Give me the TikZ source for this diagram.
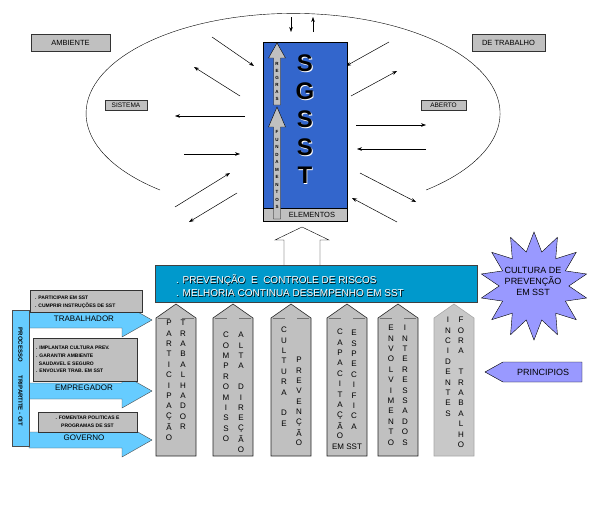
\documentclass[tikz,border=0pt]{standalone}
\usepackage{fontspec}
\setmainfont{Liberation Sans}
\usetikzlibrary{shapes.geometric,arrows.meta}
\definecolor{sgsstblue}{HTML}{3366CC}
\definecolor{barblue}{HTML}{0099CC}
\definecolor{tripblue}{HTML}{66CCFF}
\definecolor{lilac}{HTML}{9999FF}
\definecolor{boxgray}{HTML}{C0C0C0}
\definecolor{palegray}{HTML}{C8C8C8}
\tikzset{
  tag/.style={draw=black!80,fill=boxgray,line width=0.8pt},
  flow/.style={-{Stealth[length=5pt,width=3.6pt]},line width=0.5pt},
  pillar/.style={draw=black!85,fill=boxgray,line width=0.6pt},
  letter/.style={inner sep=0pt,font=\fontsize{8}{8}\selectfont},
  note/.style={inner sep=0pt,anchor=west,align=left,font=\fontsize{5}{7.6}\bfseries\selectfont},
}
\begin{document}
\begin{tikzpicture}[x=1pt,y=-1pt]
  \useasboundingbox (0,0) rectangle (592,514);
  \draw
    (160,190)
    arc[start angle=230,end angle=-50,x radius=207pt,y radius=100pt];
  \draw[tag] (31,34) rectangle (110,51);
  \node[font=\fontsize{7.5}{8}\selectfont] (ambiente) at (70.5,42.5) {AMBIENTE};
  \draw[tag] (472,34) rectangle (545,51);
  \node[font=\fontsize{7.5}{8}\selectfont] (detrabalho) at (508.5,42.5) {DE TRABALHO};
  \draw[tag,line width=0.6pt] (105,100) rectangle (147,110);
  \node[font=\fontsize{6.5}{7}\selectfont] (sistema) at (126,105) {SISTEMA};
  \draw[tag,line width=0.6pt] (421,100) rectangle (466,110);
  \node[font=\fontsize{6.5}{7}\selectfont] (aberto) at (443.5,105) {ABERTO};
  \draw[flow] (291,17) -- (291,32);
  \draw[flow] (313,32) -- (313,17);
  \draw[flow] (212,37) -- (254,66);
  \draw[flow] (240,96) -- (194,67);
  \draw[flow] (245,116) -- (175,116);
  \draw[flow] (184,154) -- (240,154);
  \draw[flow] (175,207) -- (230,173);
  \draw[flow] (237,193) -- (189,222);
  \draw[flow] (389,42) -- (346,66);
  \draw[flow] (351,96) -- (397,71);
  \draw[flow] (356,125) -- (426,125);
  \draw[flow] (426,149) -- (357,149);
  \draw[flow] (360,173) -- (416,202);
  \draw[flow] (397,222) -- (352,198);
  \draw[fill=sgsstblue,line width=0.7pt] (263,42) rectangle (347,221);
  \draw[fill=boxgray,line width=0.7pt] (263,208) rectangle (347,221);
  \node[font=\fontsize{7.5}{8}\selectfont] (elementos) at (312,214.5) {ELEMENTOS};
  \foreach \s [count=\i from 0] in {S,G,S,S,T}
    {
    \node[text=white,font=\fontsize{24}{24}\bfseries\selectfont] at (305.8,{63.8+28*\i}) {\s};
    \node[font=\fontsize{24}{24}\bfseries\selectfont] (sgsst\i) at (305,{63+28*\i}) {\s};
    }
  \filldraw[fill=boxgray]
    (273.5,105) -- (273.5,58) -- (268.5,58) -- (277,43)
    -- (285.5,58) -- (280.5,58) -- (280.5,105) -- cycle;
  \filldraw[fill=boxgray]
    (273.5,219) -- (273.5,127) -- (268.5,127) -- (277,107)
    -- (285.5,127) -- (280.5,127) -- (280.5,219) -- cycle;
  \foreach \l [count=\i from 0] in {R,E,G,R,A,S}
    \node[inner sep=0pt,font=\fontsize{4.5}{5}\bfseries\selectfont] at (277,{64+7*\i}) {\l};
  \foreach \l [count=\i from 0] in {F,U,N,D,A,M,E,N,T,O,S}
    \node[inner sep=0pt,font=\fontsize{4.5}{5}\bfseries\selectfont] at (277,{132+7.5*\i}) {\l};
  \draw[fill=white]
    (284,265) -- (284,240) -- (275,240) -- (302,227)
    -- (329,240) -- (320,240) -- (320,265);
  \draw[fill=barblue,draw=black!75,line width=0.7pt] (155,265) rectangle (477,302);
  \node[note,font=\fontsize{10}{13}\selectfont] at (176.7,286.2)
    {. PREVENÇÃO~ E~ CONTROLE DE RISCOS\\. MELHORIA CONTINUA DESEMPENHO EM SST};
  \node[note,text=white,font=\fontsize{10}{13}\selectfont] (riscos) at (176,285.5)
    {. PREVENÇÃO~ E~ CONTROLE DE RISCOS\\. MELHORIA CONTINUA DESEMPENHO EM SST};
  \node[star,star points=14,star point ratio=1.55,minimum size=108pt,
    draw,fill=lilac,inner sep=0pt] (cultura) at (534,286) {};
  \node[align=center,font=\fontsize{9}{11}\selectfont] (culturatxt) at (533,281)
    {CULTURA DE\\PREVENÇÃO\\EM SST};
  \filldraw[fill=lilac]
    (485,372) -- (503,362) -- (582,362) -- (582,382) -- (503,382) -- cycle;
  \node[font=\fontsize{9}{10}\selectfont] (principios) at (543,372) {PRINCIPIOS};
  \foreach \x in {156,213,271,327,378}
    {
    \draw[pillar]
      (\x,456) -- (\x,318) -- (\x+20,304) -- (\x+40,318) -- (\x+40,456) -- cycle;
    \draw[black!55,line width=1.3pt] (\x+2,318.5) -- (\x+14,318.5);
    \draw[black!55,line width=1.3pt] (\x+26,318.5) -- (\x+38,318.5);
    }
  \draw[draw=black!35,fill=palegray,line width=0.6pt]
    (434,456) -- (434,318) -- (454,304) -- (474,318) -- (474,456) -- cycle;
  \foreach \cx/\cy/\word in {
      169/323/{P,A,R,T,I,C,I,P,A,Ç,Ã,O},
      183/323/{T,R,A,B,A,L,H,A,D,O,R},
      226/335/{C,O,M,P,R,O,M,I,S,S,O},
      241/335/{A,L,T,A,{},D,I,R,E,Ç,Ã,O},
      284/330/{C,U,L,T,U,R,A,{},D,E},
      299/360/{P,R,E,V,E,N,Ç,Ã,O},
      340/332/{C,A,P,A,C,I,T,A,Ç,Ã,O},
      354/333/{E,S,P,E,C,I,F,I,C,A},
      391/328/{E,N,V,O,L,V,I,M,E,N,T,O},
      405/328/{I,N,T,E,R,E,S,S,A,D,O,S},
      448/320/{I,N,C,I,D,E,N,T,E,S},
      461/320/{F,O,R,A,{},T,R,A,B,A,L,H,O}}
    \foreach \l [count=\i from 0] in \word
      \node[letter] at (\cx,{\cy+10.4*\i}) {\l};
  \node[letter] (emsst) at (347,447) {EM SST};
  \filldraw[fill=tripblue,draw=black!70]
    (29,312) -- (122,312) -- (122,303) -- (152,320)
    -- (122,337) -- (122,328) -- (29,328) -- cycle;
  \filldraw[fill=tripblue,draw=black!70]
    (29,383) -- (122,383) -- (122,374) -- (152,391)
    -- (122,408) -- (122,399) -- (29,399) -- cycle;
  \filldraw[fill=tripblue,draw=black!70]
    (29,432) -- (122,432) -- (122,423) -- (152,440)
    -- (122,457) -- (122,448) -- (29,448) -- cycle;
  \filldraw[fill=tripblue,draw=black!70] (12,310) rectangle (29,446);
  \node[rotate=-90,font=\fontsize{6}{6}\bfseries\selectfont] (oit) at (20.5,377)
    {PROCESSO\hspace{14pt}TRIPARTITE - OIT};
  \draw[tag] (30,290) rectangle (142,312);
  \node[note] (trabnote) at (35,302)
    {. PARTICIPAR EM SST\\. CUMPRIR INSTRUÇÕES DE SST};
  \draw[tag] (33,338) rectangle (137,381);
  \node[note] (emprnote) at (36,359.5)
    {. IMPLANTAR CULTURA PREV.\\. GARANTIR AMBIENTE\\\ \ SAUDAVEL E SEGURO\\. ENVOLVER TRAB. EM SST};
  \draw[tag] (38,412) rectangle (137,432);
  \node[note,anchor=center,align=center] (govnote) at (87.5,421.5)
    {. FOMENTAR POLITICAS E\\PROGRAMAS DE SST};
  \node[font=\fontsize{8}{8}\selectfont] (trabalhador) at (84,319) {TRABALHADOR};
  \node[font=\fontsize{8}{8}\selectfont] (empregador) at (84,388) {EMPREGADOR};
  \node[font=\fontsize{8}{8}\selectfont] (governo) at (84,438) {GOVERNO};
\end{tikzpicture}
\end{document}
